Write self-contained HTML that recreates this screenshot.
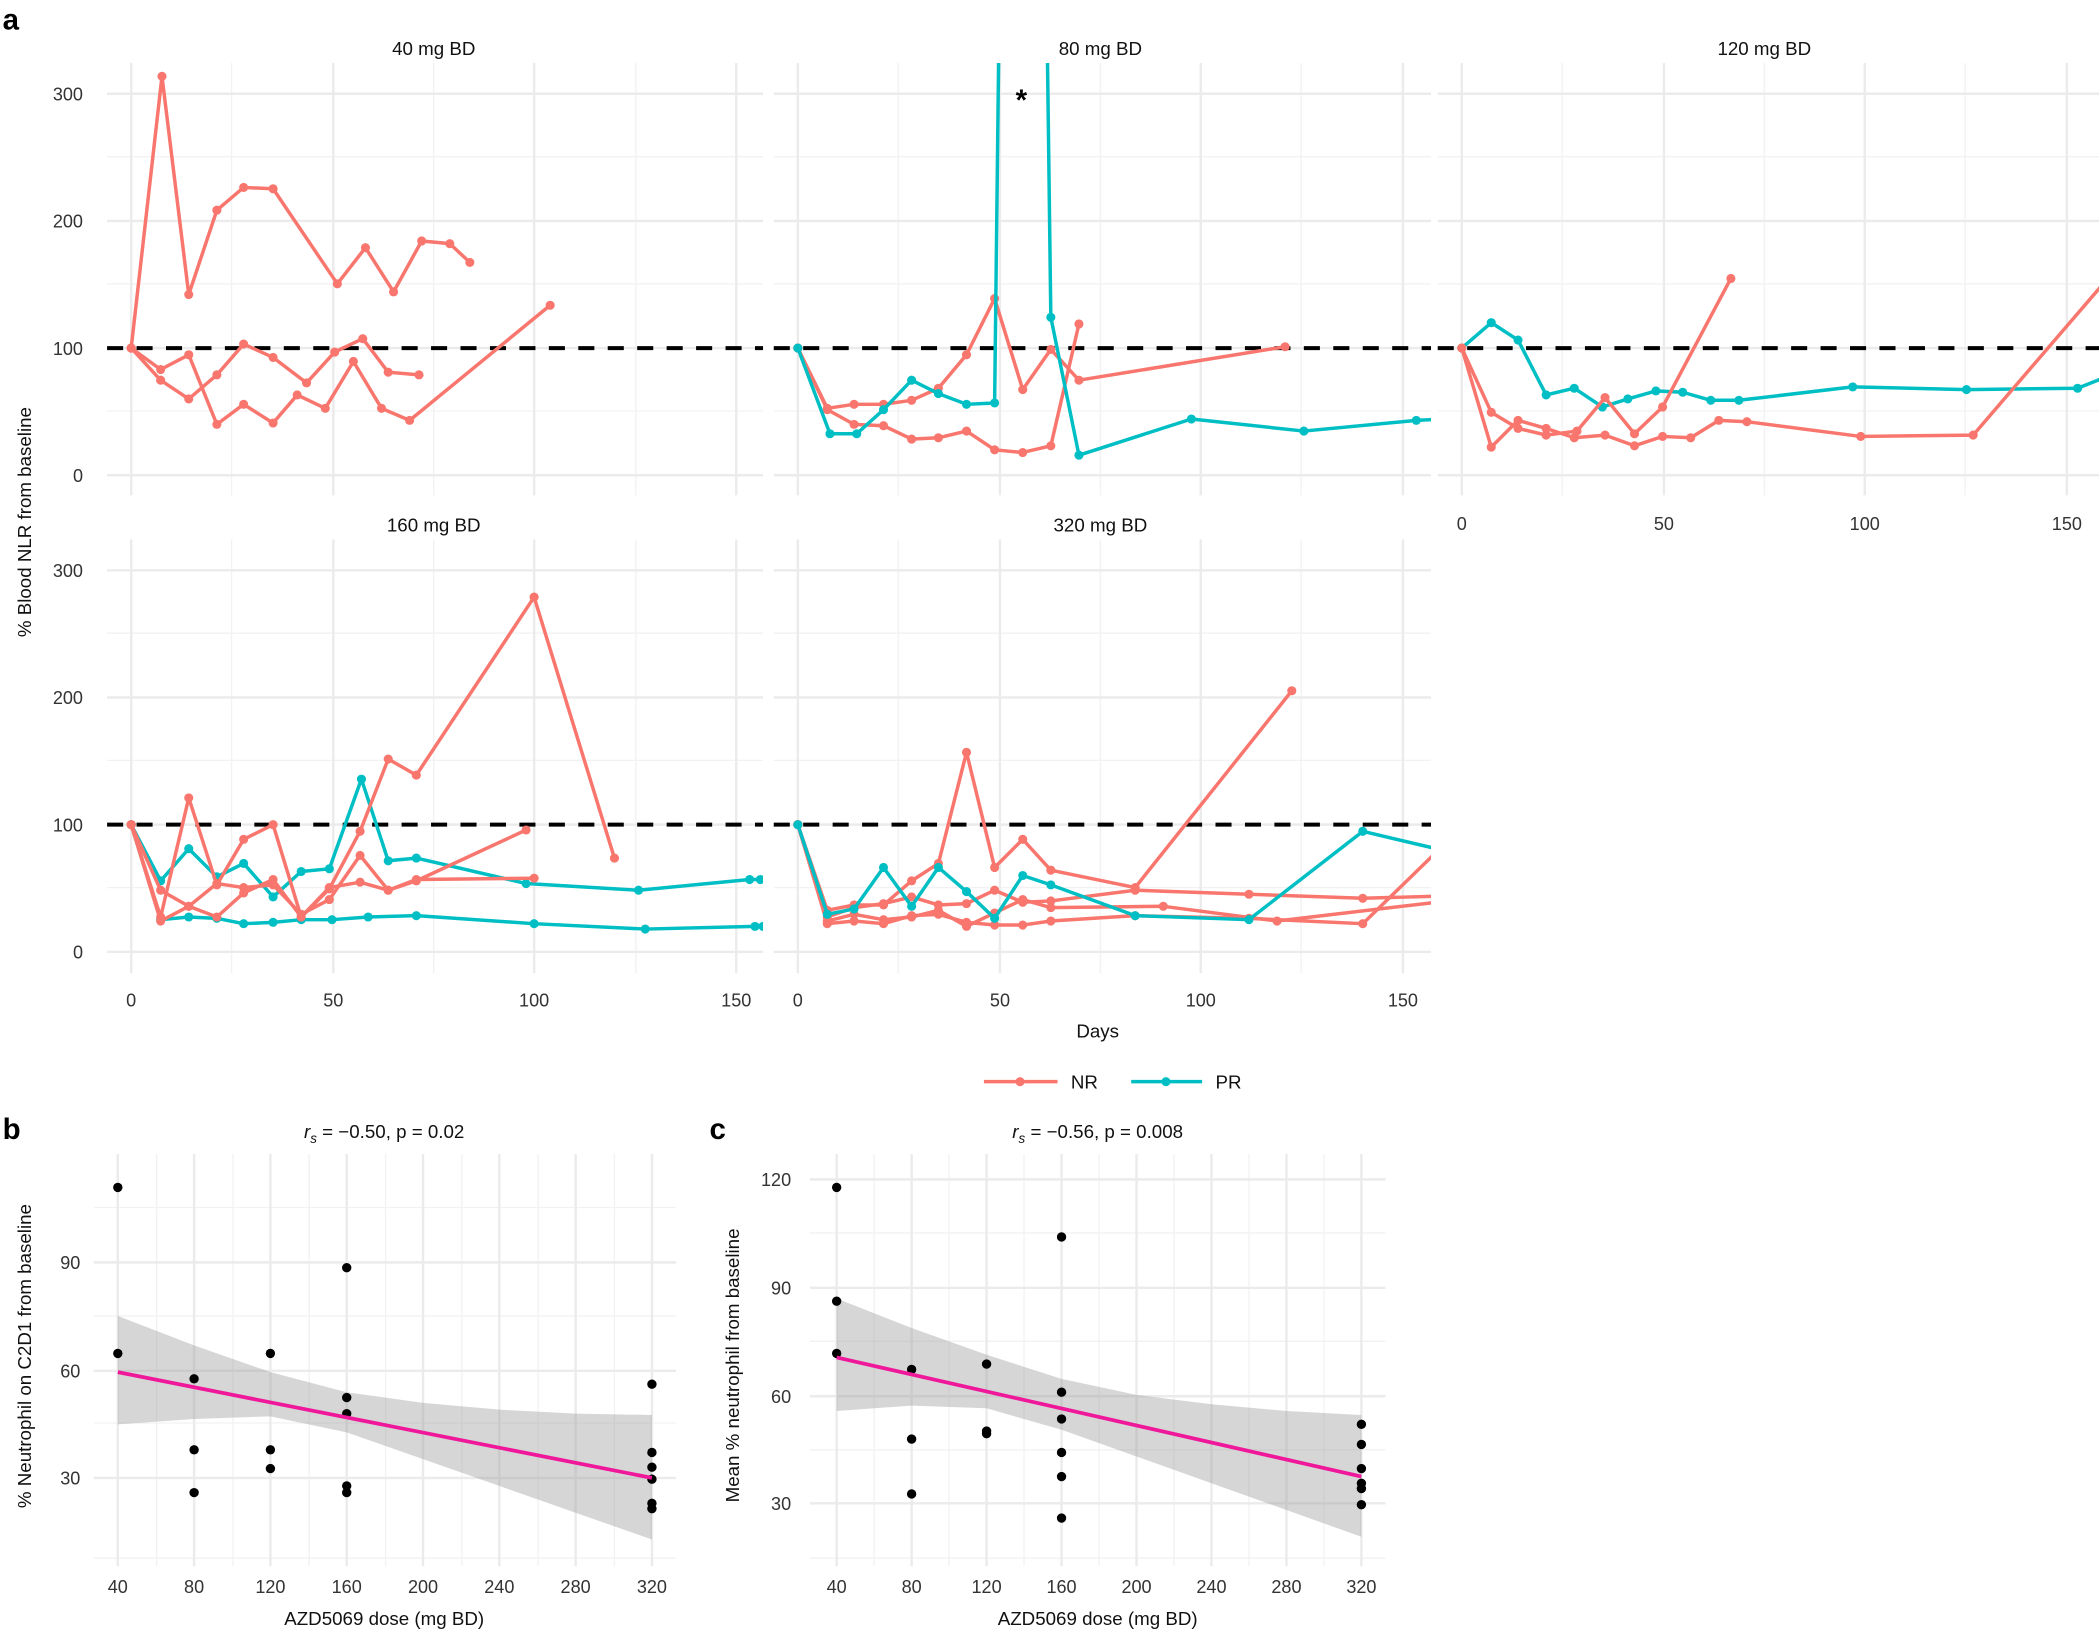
<!DOCTYPE html>
<html><head><meta charset="utf-8"><style>html,body{margin:0;padding:0;background:#fff}svg{display:block}text{font-family:"Liberation Sans",sans-serif}</style></head><body>
<svg width="2099" height="1630" viewBox="0 0 1568 1217.6" xmlns="http://www.w3.org/2000/svg">
<defs>
<marker id="mr" viewBox="-5 -5 10 10" markerWidth="10" markerHeight="10" markerUnits="userSpaceOnUse"><circle r="3.4" fill="#F8766D"/></marker>
<marker id="mt" viewBox="-5 -5 10 10" markerWidth="10" markerHeight="10" markerUnits="userSpaceOnUse"><circle r="3.4" fill="#00BFC4"/></marker>
<clipPath id="c1"><rect x="80" y="47" width="490" height="323"/></clipPath>
<clipPath id="c2"><rect x="578" y="47" width="491" height="323"/></clipPath>
<clipPath id="c3"><rect x="1074" y="47" width="494" height="323"/></clipPath>
<clipPath id="c4"><rect x="80" y="403" width="490" height="324"/></clipPath>
<clipPath id="c5"><rect x="578" y="403" width="491" height="324"/></clipPath>
</defs>
<style>.r{fill:none;stroke:#F8766D;stroke-width:2.6;stroke-linejoin:round;marker-start:url(#mr);marker-mid:url(#mr);marker-end:url(#mr)}.t{fill:none;stroke:#00BFC4;stroke-width:2.6;stroke-linejoin:round;marker-start:url(#mt);marker-mid:url(#mt);marker-end:url(#mt)}.M{stroke:#ebebeb;stroke-width:1.8;fill:none}.m{stroke:#f2f2f2;stroke-width:1;fill:none}.d{stroke:#000;stroke-width:3;stroke-dasharray:12 10}.tk{font-size:13.5px;fill:#333}.ti{font-size:14px;fill:#111}</style>

<!-- Panel a grids -->
<g>
<path class="m" d="M80 117H570M80 212H570M80 307H570M578 117H1069M578 212H1069M578 307H1069M1074 117H1568M1074 212H1568M1074 307H1568M173 47V370M324 47V370M475 47V370M671 47V370M822 47V370M972 47V370M1167 47V370M1318 47V370M1468 47V370"/>
<path class="M" d="M80 70H570M80 165H570M80 260H570M80 355H570M578 70H1069M578 165H1069M578 260H1069M578 355H1069M1074 70H1568M1074 165H1568M1074 260H1568M1074 355H1568M98 47V370M249 47V370M399 47V370M550 47V370M596 47V370M747 47V370M897 47V370M1048 47V370M1092 47V370M1243 47V370M1393 47V370M1544 47V370"/>
<path class="m" d="M80 473H570M80 568H570M80 663H570M578 473H1069M578 568H1069M578 663H1069M173 403V727M324 403V727M475 403V727M671 403V727M822 403V727M972 403V727"/>
<path class="M" d="M80 426H570M80 521H570M80 616H570M80 711H570M578 426H1069M578 521H1069M578 616H1069M578 711H1069M98 403V727M249 403V727M399 403V727M550 403V727M596 403V727M747 403V727M897 403V727M1048 403V727"/>
</g>
<line class="d" x1="80" y1="260" x2="570" y2="260"/><line class="d" x1="578" y1="260" x2="1069" y2="260"/><line class="d" x1="1074" y1="260" x2="1568" y2="260"/>
<line class="d" x1="80" y1="616" x2="570" y2="616"/><line class="d" x1="578" y1="616" x2="1069" y2="616"/>

<g clip-path="url(#c1)">
<polyline class="r" points="98,260 121,57 141,220 162,157 182,140 204,141 252,212 273,185 294,218 315,180 336,182 351,196"/>
<polyline class="r" points="98,260 120,276 141,265 162,317 182,302 204,316 222,295 243,305 264,270 285,305 306,314 411,228"/>
<polyline class="r" points="98,260 120,284 141,298 162,280 182,257 204,267 229,286 250,263 271,253 290,278 313,280"/>
</g>
<g clip-path="url(#c2)">
<polyline class="r" points="596,260 618,305 638,302 660,302 681,299 701,290 722,265 743,223 764,291 785,261 806,284 960,259"/>
<polyline class="r" points="596,260 618,306 638,317 660,318 681,328 701,327 722,322 743,336 764,338 785,333 806,242"/>
<polyline class="t" points="596,260 620,324 640,324 660,306 681,284 701,294 722,302 743,301 750,-300 778,-300 785,237 806,340 890,313 974,322 1058,314 1080,313"/>
</g>
<text x="763" y="82" font-size="22" font-weight="bold" text-anchor="middle">*</text>
<g clip-path="url(#c3)">
<polyline class="t" points="1092,260 1114,241 1134,254 1155,295 1176,290 1197,304 1216,298 1237,292 1257,293 1278,299 1299,299 1384,289 1469,291 1552,290 1590,275"/>
<polyline class="r" points="1092,260 1114,334 1134,314 1155,320 1176,327 1199,325 1221,333 1242,326 1263,327 1284,314 1305,315 1390,326 1474,325 1590,190"/>
<polyline class="r" points="1092,260 1114,308 1134,320 1155,325 1178,322 1199,297 1221,324 1242,304 1293,208"/>
</g>
<g clip-path="url(#c4)">
<polyline class="t" points="98,616 120,658 141,634 162,655 182,645 204,670 225,651 246,649 270,582 290,643 311,641 393,660 477,665 560,657 568,657"/>
<polyline class="t" points="98,616 120,687 141,685 162,686 182,690 204,689 225,687 248,687 275,685 311,684 399,690 482,694 564,692 570,692"/>
<polyline class="r" points="98,616 120,685 141,596 162,661 182,627 204,616 225,685 246,664 269,621 290,567 311,579 399,446 459,641"/>
<polyline class="r" points="98,616 120,688 141,677 162,685 182,667 204,657 225,685 246,663 269,659 290,665 311,658 393,620"/>
<polyline class="r" points="98,616 120,665 141,677 162,660 182,663 204,661 225,683 246,672 269,639 290,665 311,657 399,656"/>
</g>
<g clip-path="url(#c5)">
<polyline class="r" points="596,616 618,680 638,676 660,676 681,658 701,645 722,562 743,648 764,627 785,650 848,663 965,516"/>
<polyline class="r" points="596,616 618,690 638,688 660,690 681,684 701,683 722,689 743,691 764,691 785,688 848,684 933,686 1018,690 1090,620"/>
<polyline class="r" points="596,616 618,685 638,678 660,675 681,670 701,676 722,675 743,665 764,674 785,673 848,665 933,668 1018,671 1090,669"/>
<polyline class="r" points="596,616 618,688 638,683 660,687 681,685 701,680 722,692 743,682 764,672 785,678 869,677 954,688 1090,672"/>
<polyline class="t" points="596,616 618,683 638,679 660,648 681,677 701,648 722,666 743,686 764,654 785,661 848,684 933,687 1018,621 1090,638"/>
</g>

<!-- labels panel a -->
<text x="2" y="22" font-size="22" font-weight="bold">a</text>
<text class="ti" x="324" y="41" text-anchor="middle">40 mg BD</text>
<text class="ti" x="822" y="41" text-anchor="middle">80 mg BD</text>
<text class="ti" x="1318" y="41" text-anchor="middle">120 mg BD</text>
<text class="ti" x="324" y="397" text-anchor="middle">160 mg BD</text>
<text class="ti" x="822" y="397" text-anchor="middle">320 mg BD</text>
<g class="tk" text-anchor="end">
<text x="62" y="75">300</text><text x="62" y="170">200</text><text x="62" y="265">100</text><text x="62" y="360">0</text>
<text x="62" y="431">300</text><text x="62" y="526">200</text><text x="62" y="621">100</text><text x="62" y="716">0</text>
</g>
<g class="tk" text-anchor="middle">
<text x="1092" y="396">0</text><text x="1243" y="396">50</text><text x="1393" y="396">100</text><text x="1544" y="396">150</text>
<text x="98" y="752">0</text><text x="249" y="752">50</text><text x="399" y="752">100</text><text x="550" y="752">150</text>
<text x="596" y="752">0</text><text x="747" y="752">50</text><text x="897" y="752">100</text><text x="1048" y="752">150</text>
</g>
<text class="ti" x="820" y="775" text-anchor="middle">Days</text>
<text class="ti" transform="translate(23,390) rotate(-90)" text-anchor="middle">% Blood NLR from baseline</text>
<!-- legend -->
<line x1="735" y1="808" x2="790" y2="808" stroke="#F8766D" stroke-width="2.6"/><circle cx="762" cy="808" r="3.4" fill="#F8766D"/>
<text class="ti" x="800" y="813">NR</text>
<line x1="845" y1="808" x2="898" y2="808" stroke="#00BFC4" stroke-width="2.6"/><circle cx="871" cy="808" r="3.4" fill="#00BFC4"/>
<text class="ti" x="908" y="813">PR</text>

<!-- panel b -->
<path class="m" d="M70 1164H505M70 1063H505M70 983H505M70 902H505M117 862V1170M174 862V1170M231 862V1170M288 862V1170M345 862V1170M402 862V1170M459 862V1170"/>
<path class="M" d="M70 1104H505M70 1024H505M70 943H505M88 862V1170M145 862V1170M202 862V1170M259 862V1170M316 862V1170M373 862V1170M430 862V1170M487 862V1170"/>
<path d="M88 983 L145 1005 L202 1025 L259 1040 L316 1048 L373 1053 L430 1056 L487 1057 L487 1150 L430 1130 L373 1110 L316 1090 L259 1070 L202 1058 L145 1060 L88 1064Z" fill="#999" fill-opacity="0.4"/>
<g fill="#000">
<circle cx="88" cy="887" r="3.5"/><circle cx="88" cy="1011" r="3.5"/><circle cx="145" cy="1030" r="3.5"/><circle cx="145" cy="1083" r="3.5"/><circle cx="145" cy="1115" r="3.5"/><circle cx="202" cy="1011" r="3.5"/><circle cx="202" cy="1083" r="3.5"/><circle cx="202" cy="1097" r="3.5"/><circle cx="259" cy="947" r="3.5"/><circle cx="259" cy="1044" r="3.5"/><circle cx="259" cy="1056" r="3.5"/><circle cx="259" cy="1110" r="3.5"/><circle cx="259" cy="1115" r="3.5"/><circle cx="487" cy="1034" r="3.5"/><circle cx="487" cy="1085" r="3.5"/><circle cx="487" cy="1096" r="3.5"/><circle cx="487" cy="1105" r="3.5"/><circle cx="487" cy="1123" r="3.5"/><circle cx="487" cy="1127" r="3.5"/>
</g>
<line x1="88" y1="1025" x2="487" y2="1104" stroke="#F0189A" stroke-width="2.8"/>
<text x="2" y="851" font-size="22" font-weight="bold">b</text>
<text class="ti" x="287" y="850" text-anchor="middle"><tspan font-style="italic">r</tspan><tspan font-style="italic" font-size="10" dy="4">s</tspan><tspan dy="-4"> = −0.50, p = 0.02</tspan></text>
<g class="tk" text-anchor="end"><text x="60" y="948">90</text><text x="60" y="1029">60</text><text x="60" y="1109">30</text></g>
<g class="tk" text-anchor="middle"><text x="88" y="1190">40</text><text x="145" y="1190">80</text><text x="202" y="1190">120</text><text x="259" y="1190">160</text><text x="316" y="1190">200</text><text x="373" y="1190">240</text><text x="430" y="1190">280</text><text x="487" y="1190">320</text></g>
<text class="ti" x="287" y="1214" text-anchor="middle">AZD5069 dose (mg BD)</text>
<text class="ti" transform="translate(23,1013) rotate(-90)" text-anchor="middle">% Neutrophil on C2D1 from baseline</text>

<!-- panel c -->
<path class="m" d="M605 1164H1035M605 1083H1035M605 1002H1035M605 921H1035M653 862V1170M709 862V1170M765 862V1170M821 862V1170M877 862V1170M933 862V1170M989 862V1170"/>
<path class="M" d="M605 1123H1035M605 1043H1035M605 962H1035M605 881H1035M625 862V1170M681 862V1170M737 862V1170M793 862V1170M849 862V1170M905 862V1170M961 862V1170M1017 862V1170"/>
<path d="M625 970 L681 992 L737 1012 L793 1030 L849 1042 L905 1049 L961 1054 L1017 1057 L1017 1148 L961 1128 L905 1108 L849 1088 L793 1068 L737 1052 L681 1050 L625 1054Z" fill="#999" fill-opacity="0.4"/>
<g fill="#000">
<circle cx="625" cy="887" r="3.5"/><circle cx="625" cy="972" r="3.5"/><circle cx="625" cy="1011" r="3.5"/><circle cx="681" cy="1023" r="3.5"/><circle cx="681" cy="1075" r="3.5"/><circle cx="681" cy="1116" r="3.5"/><circle cx="737" cy="1019" r="3.5"/><circle cx="737" cy="1069" r="3.5"/><circle cx="737" cy="1071" r="3.5"/><circle cx="793" cy="924" r="3.5"/><circle cx="793" cy="1040" r="3.5"/><circle cx="793" cy="1060" r="3.5"/><circle cx="793" cy="1085" r="3.5"/><circle cx="793" cy="1103" r="3.5"/><circle cx="793" cy="1134" r="3.5"/><circle cx="1017" cy="1064" r="3.5"/><circle cx="1017" cy="1079" r="3.5"/><circle cx="1017" cy="1097" r="3.5"/><circle cx="1017" cy="1108" r="3.5"/><circle cx="1017" cy="1112" r="3.5"/><circle cx="1017" cy="1124" r="3.5"/>
</g>
<line x1="625" y1="1014" x2="1017" y2="1103" stroke="#F0189A" stroke-width="2.8"/>
<text x="530" y="851" font-size="22" font-weight="bold">c</text>
<text class="ti" x="820" y="850" text-anchor="middle"><tspan font-style="italic">r</tspan><tspan font-style="italic" font-size="10" dy="4">s</tspan><tspan dy="-4"> = −0.56, p = 0.008</tspan></text>
<g class="tk" text-anchor="end"><text x="591" y="886">120</text><text x="591" y="967">90</text><text x="591" y="1048">60</text><text x="591" y="1128">30</text></g>
<g class="tk" text-anchor="middle"><text x="625" y="1190">40</text><text x="681" y="1190">80</text><text x="737" y="1190">120</text><text x="793" y="1190">160</text><text x="849" y="1190">200</text><text x="905" y="1190">240</text><text x="961" y="1190">280</text><text x="1017" y="1190">320</text></g>
<text class="ti" x="820" y="1214" text-anchor="middle">AZD5069 dose (mg BD)</text>
<text class="ti" transform="translate(552,1020) rotate(-90)" text-anchor="middle">Mean % neutrophil from baseline</text>
</svg>
</body></html>
